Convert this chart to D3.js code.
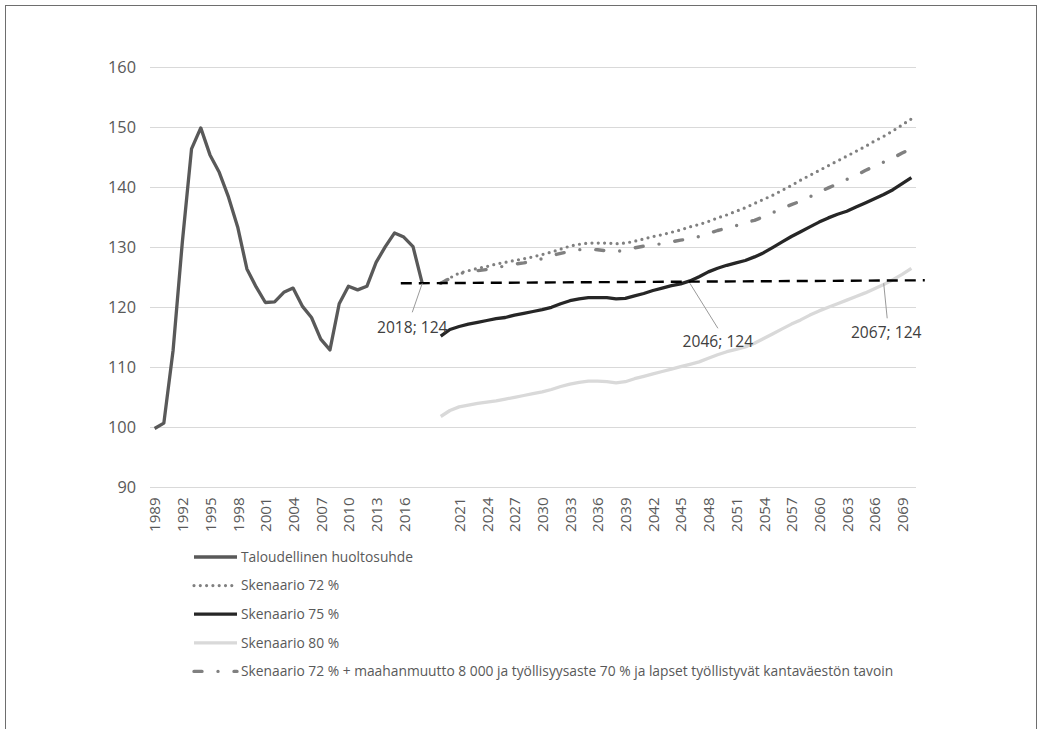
<!DOCTYPE html>
<html>
<head>
<meta charset="utf-8">
<script src="https://cdn.jsdelivr.net/npm/d3@7"></script>
<style>
  body { margin: 0; background: #fff; }
  svg { display: block; font-family: "Open Sans", sans-serif; }
</style>
</head>
<body>
<svg id="chart" width="1043" height="729"></svg>
<script>
// ---------------- DATA ----------------
const histCategories = ["1989","1990","1991","1992","1993","1994","1995","1996","1997","1998",
  "1999","2000","2001","2002","2003","2004","2005","2006","2007","2008",
  "2009","2010","2011","2012","2013","2014","2015","2016","2017","2018"];
const gapCategories = [""];
const projCategories = ["2019","2020","2021","2022","2023","2024","2025","2026","2027","2028",
  "2029","2030","2031","2032","2033","2034","2035","2036","2037","2038",
  "2039","2040","2041","2042","2043","2044","2045","2046","2047","2048",
  "2049","2050","2051","2052","2053","2054","2055","2056","2057","2058",
  "2059","2060","2061","2062","2063","2064","2065","2066","2067","2068",
  "2069","2070"];

const huoltosuhde = [99.8, 100.7, 112.8, 130.8, 146.4, 149.9, 145.4, 142.5, 138.4, 133.4,
  126.4, 123.4, 120.8, 120.9, 122.5, 123.2, 120.2, 118.3, 114.7, 112.9,
  120.6, 123.5, 122.9, 123.5, 127.5, 130.1, 132.4, 131.7, 130.1, 124.0];

const skenaario72 = [124.0, 124.9, 125.7, 126.1, 126.5, 126.8, 127.2, 127.5, 127.8, 128.1,
  128.4, 128.8, 129.2, 129.7, 130.2, 130.5, 130.7, 130.7, 130.7, 130.6,
  130.7, 131.0, 131.4, 131.8, 132.1, 132.5, 132.9, 133.4, 133.8, 134.3,
  134.9, 135.4, 136.0, 136.6, 137.3, 138.0, 138.7, 139.5, 140.3, 141.2,
  142.0, 142.8, 143.6, 144.4, 145.2, 146.0, 146.8, 147.7, 148.5, 149.4,
  150.4, 151.4];

const skenaario75 = [115.2, 116.3, 116.8, 117.2, 117.5, 117.8, 118.1, 118.3, 118.7, 119.0,
  119.3, 119.6, 120.0, 120.6, 121.1, 121.4, 121.6, 121.6, 121.6, 121.4,
  121.5, 121.9, 122.3, 122.8, 123.2, 123.6, 123.9, 124.4, 125.1, 125.9,
  126.5, 127.0, 127.4, 127.8, 128.4, 129.1, 130.0, 130.9, 131.8, 132.6,
  133.4, 134.2, 134.9, 135.5, 136.0, 136.7, 137.4, 138.1, 138.8, 139.6,
  140.6, 141.6];

const skenaario80 = [101.8, 102.8, 103.4, 103.7, 104.0, 104.2, 104.4, 104.7, 105.0, 105.3,
  105.6, 105.9, 106.3, 106.8, 107.2, 107.5, 107.7, 107.7, 107.6, 107.4,
  107.6, 108.1, 108.5, 108.9, 109.3, 109.7, 110.1, 110.5, 110.9, 111.5,
  112.1, 112.6, 113.0, 113.4, 114.0, 114.8, 115.6, 116.4, 117.2, 117.9,
  118.7, 119.4, 120.0, 120.6, 121.2, 121.8, 122.4, 123.1, 123.8, 124.6,
  125.5, 126.5];

const skenaario72m = [124.0, 124.8, 125.6, 125.9, 126.1, 126.3, 126.6, 126.9, 127.2, 127.4,
  127.7, 128.1, 128.6, 129.0, 129.3, 129.6, 129.7, 129.6, 129.4, 129.3,
  129.5, 129.9, 130.2, 130.4, 130.6, 130.9, 131.2, 131.4, 131.8, 132.3,
  132.8, 133.2, 133.6, 134.1, 134.5, 135.1, 135.8, 136.5, 137.1, 137.7,
  138.4, 139.2, 139.9, 140.6, 141.3, 142.0, 142.8, 143.5, 144.2, 144.9,
  145.7, 146.5];

const yTicks = [90, 100, 110, 120, 130, 140, 150, 160];
const referenceLevel = [124.0, 124.5];       // dashed level line, start and end value
const referenceCats = ["2016", "2070"];
const annotationCats = ["2018", "2046", "2067"];
const annotationValues = [124, 124, 124];
const annotationLabels = ["2018; 124", "2046; 124", "2067; 124"];
const legendLabels = [
  "Taloudellinen huoltosuhde",
  "Skenaario 72 %",
  "Skenaario 75 %",
  "Skenaario 80 %",
  "Skenaario 72 % + maahanmuutto 8 000 ja työllisyysaste 70 % ja lapset työllistyvät kantaväestön tavoin"
];

// ---------------- CHART ----------------
const categories = histCategories.concat(gapCategories, projCategories);
const svg = d3.select("#chart");

// outer frame
svg.append("rect").attr("x", 5.5).attr("y", 5.5).attr("width", 1031).attr("height", 760)
  .attr("fill", "none").attr("stroke", "#6e6e6e").attr("stroke-width", 1);

const plot = { left: 150, right: 916, top: 67.3, bottom: 487.3 };

const x = d3.scalePoint().domain(categories).range([plot.left, plot.right]).padding(0.5);
const y = d3.scaleLinear().domain([90, 160]).range([plot.bottom, plot.top]);

const textColor = "#595959";

// gridlines
svg.append("g").selectAll("line").data(yTicks).join("line")
  .attr("x1", plot.left).attr("x2", plot.right)
  .attr("y1", d => Math.round(y(d)) + 0.5).attr("y2", d => Math.round(y(d)) + 0.5)
  .attr("stroke", "#d9d9d9").attr("stroke-width", 1.2);

// y axis labels
const yAxis = d3.axisLeft(y).tickValues(yTicks).tickSize(0).tickPadding(0);
const gy = svg.append("g").attr("transform", `translate(${plot.left - 14},0)`).call(yAxis);
gy.select(".domain").remove();
gy.selectAll("text").attr("fill", textColor).style("font-size", "16.3px")
  .style("font-family", "'Open Sans', sans-serif");

// x axis labels
const xTickVals = categories.filter((c, i) => i % 3 === 0);
const xAxis = d3.axisBottom(x).tickValues(xTickVals).tickSize(0).tickPadding(0);
const gx = svg.append("g").attr("transform", `translate(0,${plot.bottom + 10})`).call(xAxis);
gx.select(".domain").remove();
gx.selectAll("text")
  .attr("fill", textColor).style("font-size", "15.2px")
  .style("font-family", "'Open Sans', sans-serif")
  .attr("transform", "rotate(-90)")
  .attr("text-anchor", "end")
  .attr("x", 0).attr("y", 0).attr("dy", "0.35em");

// series
const histData = histCategories.map((c, i) => ({ c, v: huoltosuhde[i] }));
const mk = arr => projCategories.map((c, i) => ({ c, v: arr[i] }));

const line = d3.line().x(d => x(d.c)).y(d => y(d.v));

const styles = {
  hist: { stroke: "#595959", width: 3.3, dash: null, cap: "butt" },
  s72: { stroke: "#808080", width: 3.2, dash: "0 6.3", cap: "round" },
  s75: { stroke: "#262626", width: 3.3, dash: null, cap: "butt" },
  s80: { stroke: "#d9d9d9", width: 3.3, dash: null, cap: "butt" },
  s72m: { stroke: "#808080", width: 3.4, dash: "8 16 0 16", cap: "round" }
};

function drawSeries(data, st) {
  svg.append("path").datum(data).attr("d", line)
    .attr("fill", "none").attr("stroke", st.stroke).attr("stroke-width", st.width)
    .attr("stroke-dasharray", st.dash).attr("stroke-linecap", st.cap)
    .attr("stroke-linejoin", "round");
}

drawSeries(histData, styles.hist);
drawSeries(mk(skenaario80), styles.s80);
drawSeries(mk(skenaario75), styles.s75);
drawSeries(mk(skenaario72m), styles.s72m);
drawSeries(mk(skenaario72), styles.s72);

// dashed reference level line
const step = x.step();
svg.append("line")
  .attr("x1", x(referenceCats[0]) - 3).attr("y1", y(referenceLevel[0]))
  .attr("x2", x(referenceCats[1]) + step * 1.45).attr("y2", y(referenceLevel[1]))
  .attr("stroke", "#000").attr("stroke-width", 2.4).attr("stroke-dasharray", "11 7");

// annotations
const leaderOffsets = [[-10, 29], [28, 45], [3.5, 35]];
const labelOffsets = [[-10, 50], [28, 63.4], [2.5, 55]];
annotationCats.forEach((c, i) => {
  const px = x(c), py = y(annotationValues[i]);
  svg.append("line")
    .attr("x1", px).attr("y1", py)
    .attr("x2", px + leaderOffsets[i][0]).attr("y2", py + leaderOffsets[i][1])
    .attr("stroke", "#9a9a9a").attr("stroke-width", 1);
  svg.append("text")
    .attr("x", px + labelOffsets[i][0]).attr("y", py + labelOffsets[i][1])
    .attr("text-anchor", "middle").attr("fill", "#404040")
    .style("font-size", "15.6px").text(annotationLabels[i]);
});

// legend
const legendStyles = [styles.hist, styles.s72, styles.s75, styles.s80, styles.s72m];
const legendY0 = 557, legendDy = 28.6;
legendLabels.forEach((lab, i) => {
  const ly = legendY0 + i * legendDy;
  const st = legendStyles[i];
  svg.append("line").attr("x1", 194).attr("x2", 237).attr("y1", ly).attr("y2", ly)
    .attr("stroke", st.stroke).attr("stroke-width", st.width)
    .attr("stroke-dasharray", st.dash).attr("stroke-linecap", st.cap);
  svg.append("text").attr("x", 241).attr("y", ly).attr("dy", "0.35em")
    .attr("fill", textColor).style("font-size", "13.8px").text(lab);
});
</script>
</body>
</html>
